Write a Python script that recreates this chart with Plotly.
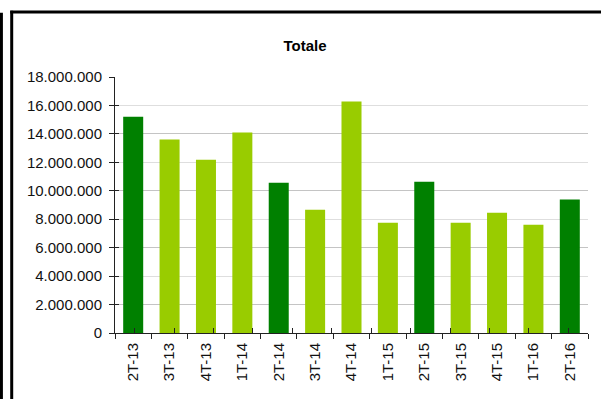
import plotly.graph_objects as go

# Quarterly totals
quarters = ["2T-13", "3T-13", "4T-13", "1T-14", "2T-14", "3T-14", "4T-14",
            "1T-15", "2T-15", "3T-15", "4T-15", "1T-16", "2T-16"]
totals = [15200000, 13600000, 12190000, 14090000, 10570000, 8670000, 16270000,
          7760000, 10640000, 7750000, 8460000, 7620000, 9380000]
# second-quarter bars are highlighted in dark green
bar_colors = ["#008000" if q.startswith("2T") else "#99CC00" for q in quarters]

W, H = 601, 399
ML, MR, MT, MB = 115, 12.5, 77.3, 65.7
PW, PH = W - ML - MR, H - MT - MB

def px(x):
    return (x - ML) / PW

def py(y):
    return 1 - (y - MT) / PH

FONT = "Arial, Liberation Sans, sans-serif"
AXIS_COL = "#222222"

fig = go.Figure()

# invisible trace that anchors the background axes (grid + inner ticks)
fig.add_trace(go.Scatter(x=quarters, y=totals, mode="none", xaxis="x", yaxis="y",
                         showlegend=False, hoverinfo="skip"))
# the bars, on the overlaid axes that carry labels
fig.add_trace(go.Bar(x=quarters, y=totals, marker=dict(color=bar_colors, line=dict(width=0)),
                     xaxis="x2", yaxis="y2", showlegend=False))

yrange = [0, 18000000]

fig.update_layout(
    width=W, height=H,
    margin=dict(l=ML, r=MR, t=MT, b=MB, pad=0),
    paper_bgcolor="white", plot_bgcolor="white",
    separators=",.",
    bargap=0.45,
    font=dict(family=FONT, size=15, color="#111111"),
    title=dict(text="<b>Totale</b>", x=305 / W, xref="container", xanchor="center",
               y=1 - 46 / H, yref="container", yanchor="middle",
               font=dict(family=FONT, size=15, color="#000000")),
    xaxis=dict(type="category", tickson="boundaries", ticks="inside", ticklen=5,
               tickcolor=AXIS_COL, showticklabels=False, showgrid=False,
               showline=False, zeroline=False),
    yaxis=dict(range=yrange, tick0=0, dtick=4000000, showticklabels=False,
               ticks="inside", ticklen=4, tickcolor=AXIS_COL,
               showgrid=True, gridcolor="#dedede", gridwidth=1.3,
               minor=dict(dtick=2000000, tick0=0, showgrid=True, gridcolor="#c4c4c4",
                          gridwidth=1, ticks="inside", ticklen=4, tickcolor=AXIS_COL),
               showline=False, zeroline=False),
    xaxis2=dict(type="category", overlaying="x", tickson="boundaries", ticks="outside",
                ticklen=5, tickcolor=AXIS_COL, tickangle=-90, showgrid=False,
                showline=True, linecolor=AXIS_COL, linewidth=1,
                ticklabelstandoff=3, tickfont=dict(size=15, color="#111111")),
    yaxis2=dict(range=yrange, overlaying="y", tick0=0, dtick=2000000, tickformat=",d",
                ticks="outside", ticklen=5, tickcolor=AXIS_COL, showgrid=False,
                showline=True, linecolor=AXIS_COL, linewidth=1, zeroline=False,
                ticklabelstandoff=4, tickfont=dict(size=15, color="#111111")),
)

# black frame lines around the panel
frame = dict(color="black", width=3)
fig.add_shape(type="line", xref="paper", yref="paper",
              x0=px(1.3), x1=px(1.3), y0=py(13), y1=py(402), line=frame, layer="above")
fig.add_shape(type="line", xref="paper", yref="paper",
              x0=px(11.6), x1=px(11.6), y0=py(11), y1=py(402), line=frame, layer="above")
fig.add_shape(type="line", xref="paper", yref="paper",
              x0=px(10.1), x1=px(603), y0=py(12.4), y1=py(12.4), line=frame, layer="above")

fig.write_html("out.html")
